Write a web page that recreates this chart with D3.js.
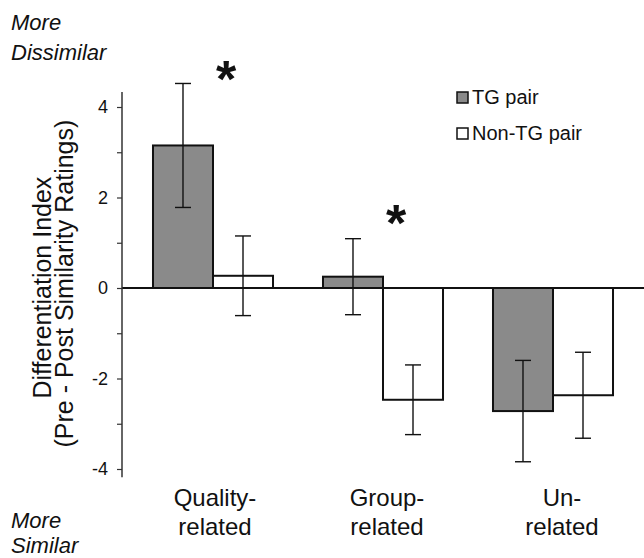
<!DOCTYPE html>
<html>
<head>
<meta charset="utf-8">
<script src="https://cdn.jsdelivr.net/npm/d3@7/dist/d3.min.js"></script>
<style>
  html, body { margin: 0; padding: 0; background: #fff; }
  svg { display: block; font-family: "Liberation Sans", Arial, sans-serif; }
</style>
</head>
<body>
<svg id="chart" width="644" height="558"></svg>
<script>
// ---- data ----
const categories = ["Quality-related", "Group-related", "Un-related"];
const categoryLines = [["Quality-", "related"], ["Group-", "related"], ["Un-", "related"]];
const seriesNames = ["TG pair", "Non-TG pair"];
const tgValues = [3.15, 0.25, -2.72];
const tgErrors = [1.37, 0.84, 1.12];
const nonTgValues = [0.27, -2.47, -2.37];
const nonTgErrors = [0.88, 0.77, 0.95];
const yTickValues = [-4, -2, 0, 2, 4];
const yMinorTickValues = [-3, -1, 1, 3];
const significant = [true, true, false];
const starLevels = [4.72, 1.55, null];

// ---- layout ----
const svg = d3.select("#chart");
const W = 644, H = 558;
const axisX = 122;
const y = d3.scaleLinear().domain([-4, 4]).range([469, 107]);
const x = d3.scaleBand().domain(categories).range([128, 638]).paddingInner(0.294).paddingOuter(0.147);
const xs = d3.scaleBand().domain(seriesNames).range([0, x.bandwidth()]);
const fills = { "TG pair": "#8a8a8a", "Non-TG pair": "#ffffff" };

const rows = categories.map((c, i) => ({
  cat: c,
  bars: [
    { s: seriesNames[0], v: tgValues[i], e: tgErrors[i] },
    { s: seriesNames[1], v: nonTgValues[i], e: nonTgErrors[i] }
  ]
}));

// bars
const g = svg.append("g");
const groups = g.selectAll("g.grp").data(rows).join("g")
  .attr("transform", d => `translate(${x(d.cat)},0)`);

groups.selectAll("rect").data(d => d.bars).join("rect")
  .attr("x", d => xs(d.s))
  .attr("width", xs.bandwidth())
  .attr("y", d => Math.min(y(d.v), y(0)))
  .attr("height", d => Math.abs(y(d.v) - y(0)))
  .attr("fill", d => fills[d.s])
  .attr("stroke", "#111")
  .attr("stroke-width", 2);

// zero line
svg.append("line")
  .attr("x1", axisX).attr("x2", W)
  .attr("y1", y(0)).attr("y2", y(0))
  .attr("stroke", "#111").attr("stroke-width", 2);

// error bars
const capW = 16;
const eb = groups.selectAll("g.eb").data(d => d.bars).join("g")
  .attr("class", "eb")
  .attr("transform", d => `translate(${xs(d.s) + xs.bandwidth() / 2},0)`)
  .attr("stroke", "#111").attr("stroke-width", 1.4);
eb.append("line").attr("x1", 0).attr("x2", 0)
  .attr("y1", d => y(d.v + d.e)).attr("y2", d => y(d.v - d.e));
eb.append("line").attr("x1", -capW / 2).attr("x2", capW / 2)
  .attr("y1", d => y(d.v + d.e)).attr("y2", d => y(d.v + d.e));
eb.append("line").attr("x1", -capW / 2).attr("x2", capW / 2)
  .attr("y1", d => y(d.v - d.e)).attr("y2", d => y(d.v - d.e));

// y axis
const yAxis = d3.axisLeft(y).tickValues(yTickValues).tickSize(5).tickPadding(9)
  .tickFormat(d => d3.format("d")(d).replace("−", "-"));
const ya = svg.append("g").attr("transform", `translate(${axisX},0)`).call(yAxis);
ya.select(".domain").remove();
ya.selectAll(".tick line").attr("stroke", "#333").attr("stroke-width", 1.2);
ya.selectAll(".tick text").attr("font-size", 18).attr("fill", "#111")
  .attr("font-family", "Liberation Sans, Arial, sans-serif");
svg.append("line").attr("x1", axisX).attr("x2", axisX)
  .attr("y1", y(4.33)).attr("y2", y(-4.18))
  .attr("stroke", "#333").attr("stroke-width", 1.5);
const yMinor = d3.axisLeft(y).tickValues(yMinorTickValues).tickSize(5).tickFormat("");
const ym = svg.append("g").attr("transform", `translate(${axisX},0)`).call(yMinor);
ym.select(".domain").remove();
ym.selectAll(".tick line").attr("stroke", "#333").attr("stroke-width", 1.2);

// axis title
const yMid = (y(4.33) + y(-4.18)) / 2 + 3;
svg.append("text")
  .attr("transform", `translate(51,${yMid}) rotate(-90)`)
  .attr("text-anchor", "middle").attr("font-size", 25).attr("fill", "#111")
  .text("Differentiation Index");
svg.append("text")
  .attr("transform", `translate(73,${yMid - 4}) rotate(-90)`)
  .attr("text-anchor", "middle").attr("font-size", 25).attr("fill", "#111")
  .text("(Pre - Post Similarity Ratings)");

// category labels
const labelNudge = [2, 4, 9];
categories.forEach((c, i) => {
  const t = svg.append("text")
    .attr("text-anchor", "middle").attr("font-size", 24).attr("fill", "#111");
  categoryLines[i].forEach((line, j) => {
    t.append("tspan")
      .attr("x", x(c) + x.bandwidth() / 2 + labelNudge[i])
      .attr("y", 506 + j * 29)
      .text(line);
  });
});

// significance stars (centred on level)
rows.forEach((r, i) => {
  if (!significant[i]) return;
  svg.append("text")
    .attr("x", x(r.cat) + x.bandwidth() * 0.61)
    .attr("y", y(starLevels[i]) + 23)
    .attr("text-anchor", "middle")
    .attr("font-size", 52).attr("font-weight", "bold").attr("fill", "#111")
    .text("*");
});

// legend
const legend = svg.append("g").attr("transform", "translate(457,91)");
seriesNames.forEach((s, i) => {
  const lg = legend.append("g").attr("transform", `translate(0,${i * 36})`);
  lg.append("rect").attr("x", 0).attr("y", 1).attr("width", 11).attr("height", 11)
    .attr("fill", fills[s]).attr("stroke", "#111").attr("stroke-width", 1.5);
  lg.append("text").attr("x", 15).attr("y", 13).attr("font-size", 20).attr("fill", "#111").text(s);
});

// corner labels
const corner = [["More", 30], ["Dissimilar", 60], ["More", 528], ["Similar", 553]];
corner.forEach(([t, yy]) => {
  svg.append("text").attr("x", 11).attr("y", yy)
    .attr("font-size", 22).attr("font-style", "italic").attr("fill", "#111").text(t);
});
</script>
</body>
</html>
